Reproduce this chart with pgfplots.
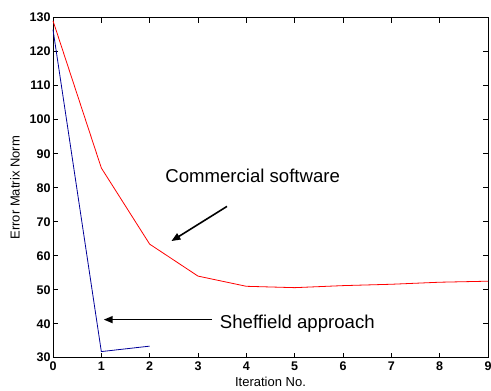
\documentclass[border=0pt]{standalone}
\usepackage{pgfplots}
\pgfplotsset{compat=1.18}
\usepackage{fontspec}
\setmainfont{Liberation Sans}
\usetikzlibrary{arrows.meta}
\begin{document}
\begin{tikzpicture}
\begin{axis}[
  name=ax,
  scale only axis,
  width=435pt, height=340pt,
  xmin=0, xmax=9, ymin=30, ymax=130,
  xtick={0,...,9}, ytick={30,40,...,130},
  tick align=inside,
  major tick length=5pt,
  tick style={black, line width=0.6pt},
  axis line style={line width=0.8pt},
  tick label style={font=\fontsize{12.5}{14}\selectfont\bfseries},
  xticklabel style={yshift=-1pt},
  yticklabel style={xshift=1pt},
  /pgf/number format/assume math mode=true,
  xlabel={Iteration No.},
  ylabel={Error Matrix Norm},
  label style={font=\fontsize{13}{15}\selectfont},
  xlabel style={yshift=1pt},
  ylabel style={yshift=3pt},
  clip=false,
]
\addplot[red, line width=0.8pt] coordinates {
  (0,129.1) (1,85.8) (2,63.4) (3,54.0) (4,51.0) (5,50.6) (6,51.2) (7,51.6) (8,52.2) (9,52.5)
};
\addplot[blue!60!black, line width=0.8pt] coordinates {
  (0,126.5) (1,31.8) (2,33.4)
};
\node[anchor=west, font=\fontsize{18.6}{22}\selectfont, inner sep=0pt] at (axis cs:2.32,83.4) {Commercial software};
\node[anchor=west, font=\fontsize{18.6}{22}\selectfont, inner sep=0pt] at (axis cs:3.45,40.0) {Sheffield approach};
\draw[-{Triangle[length=9pt,width=7pt]}, line width=1.6pt] (axis cs:3.6,74.5) -- (axis cs:2.45,64.3);
\draw[-{Triangle[length=9pt,width=7pt]}, line width=1.6pt] (axis cs:3.29,41.2) -- (axis cs:1.05,41.2);
\end{axis}
\pgfresetboundingbox
\path[use as bounding box] ([xshift=-53pt,yshift=-32.3pt]ax.south west) rectangle ([xshift=3pt,yshift=17.7pt]ax.north east);
\end{tikzpicture}
\end{document}
